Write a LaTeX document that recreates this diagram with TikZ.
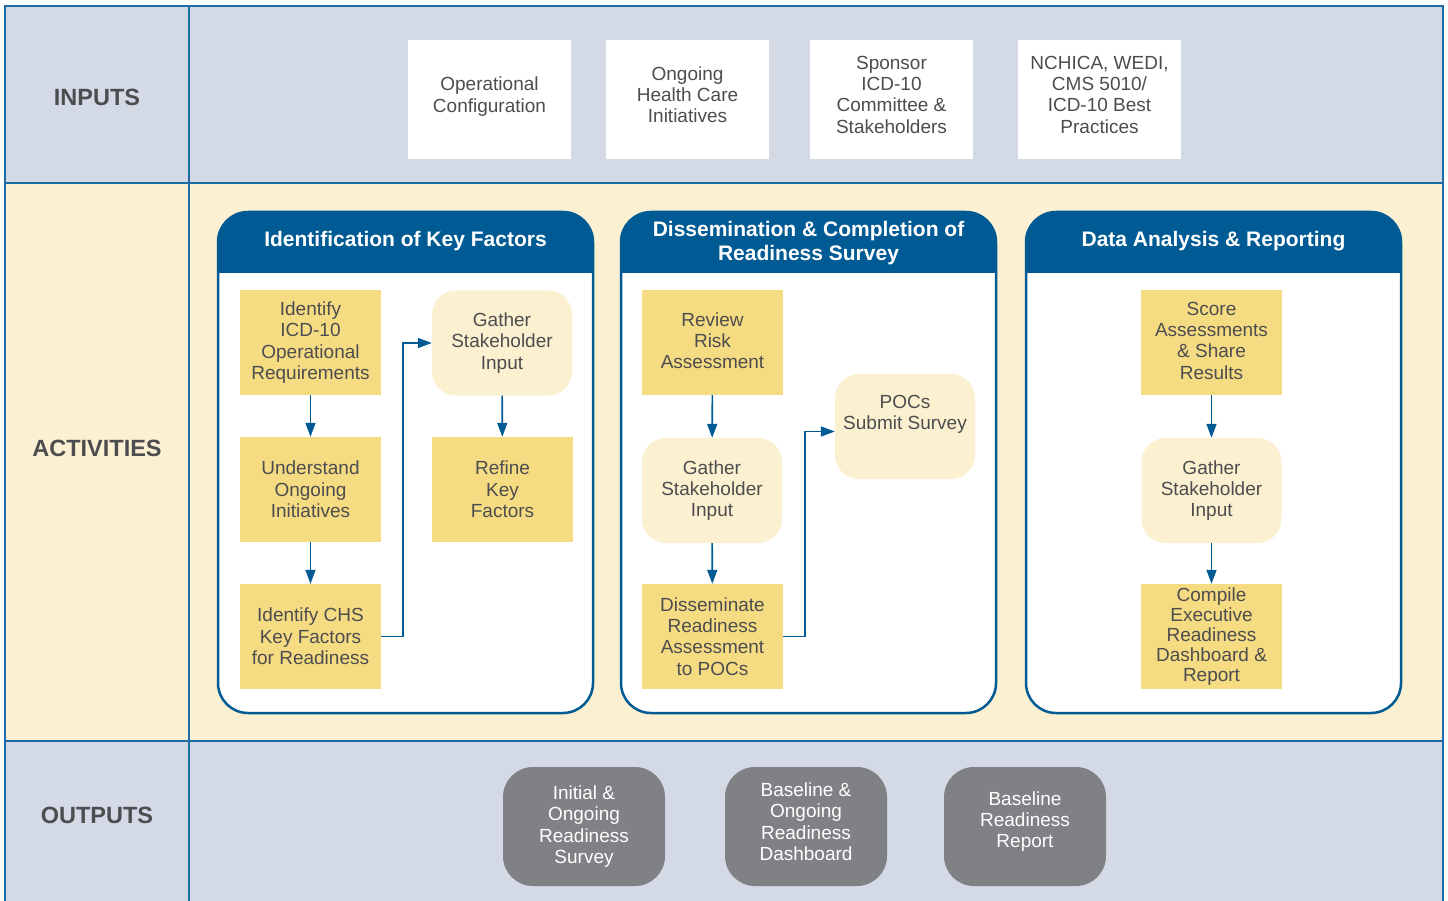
\documentclass[tikz,border=0pt]{standalone}
\usepackage{fontspec}
\setmainfont{Liberation Sans}
\usetikzlibrary{arrows.meta}
\definecolor{rowblue}{HTML}{D3D9E5}
\definecolor{rowcream}{HTML}{FBF0D2}
\definecolor{frame}{HTML}{1F6BA5}
\definecolor{hdr}{HTML}{005B94}
\definecolor{yfill}{HTML}{F5DC82}
\definecolor{cfill}{HTML}{FBF0D0}
\definecolor{gfill}{HTML}{808185}
\definecolor{txt}{HTML}{4D4D4F}
\begin{document}
\begin{tikzpicture}[x=1pt,y=-1pt,
  body/.style={font=\fontsize{19}{21.3}\selectfont, text=txt, align=center},
  ybox/.style={body, fill=yfill, minimum width=141pt, minimum height=105pt, inner sep=0pt},
  cbox/.style={body, fill=cfill, rounded corners=24pt, minimum width=140pt, minimum height=105pt, inner sep=0pt},
  inbox/.style={body, fill=white, minimum width=163pt, minimum height=119pt, inner sep=0pt, text depth=10pt},
  outbox/.style={body, text=white, fill=gfill, rounded corners=30pt, minimum width=162pt, minimum height=119pt, inner sep=0pt},
  rowlabel/.style={font=\fontsize{23.5}{26}\selectfont\bfseries, text=txt},
  ptitle/.style={font=\fontsize{21}{24}\selectfont\bfseries, text=white, align=center},
  pborder/.style={draw=hdr, line width=2.5pt, rounded corners=30pt, minimum width=375pt, minimum height=501pt, inner sep=0pt},
  framel/.style={draw=frame, line width=1.5pt},
  arr/.style={draw=hdr, line width=1.6pt, -{Triangle[length=14pt,width=10pt]}},
]
\useasboundingbox (0,0) rectangle (1448,901);
\fill[white] (0,0) rectangle (1448,901);
% rows
\fill[rowblue] (5,6) rectangle (1443,183);
\fill[rowcream] (5,183) rectangle (1443,741);
\fill[rowblue] (5,741) rectangle (1443,901);
\draw[framel] (5,901) -- (5,6) -- (1443,6) -- (1443,901);
\draw[framel] (5,183) -- (1443,183);
\draw[framel] (5,741) -- (1443,741);
\draw[framel] (189,6) -- (189,901);
% row labels
\node[rowlabel] (lin) at (97,97) {INPUTS};
\node[rowlabel] (lact) at (97,448) {ACTIVITIES};
\node[rowlabel] (lout) at (97,815) {OUTPUTS};
% inputs
\node[inbox] (i1) at (489.5,99.5) {Operational\\Configuration};
\node[inbox] (i2) at (687.5,99.5) {Ongoing\\Health Care\\Initiatives};
\node[inbox] (i3) at (891.5,99.5) {Sponsor\\ICD-10\\Committee \&\\Stakeholders};
\node[inbox] (i4) at (1099.5,99.5) {NCHICA, WEDI,\\CMS 5010/\\ICD-10 Best\\Practices};
% panels
\foreach \xa/\xb in {218/593, 621/996, 1026/1401} {
  \fill[white, rounded corners=30pt] (\xa,212) rectangle (\xb,713);
  \begin{scope}
    \clip[rounded corners=30pt] (\xa,212) rectangle (\xb,713);
    \fill[hdr] (\xa,212) rectangle (\xb,273);
  \end{scope}
}
\node[pborder] (p1) at (405.5,462.5) {};
\node[pborder] (p2) at (808.5,462.5) {};
\node[pborder] (p3) at (1213.5,462.5) {};
\node[ptitle] (t1) at (405.5,241) {Identification of Key Factors};
\node[ptitle] (t2) at (808.5,243) {Dissemination \& Completion of\\Readiness Survey};
\node[ptitle] (t3) at (1213.5,241) {Data Analysis \& Reporting};
% panel 1
\node[ybox] (a1) at (310.5,342.5) {Identify\\ICD-10\\Operational\\Requirements};
\node[ybox] (a2) at (310.5,489.5) {Understand\\Ongoing\\Initiatives};
\node[ybox] (a3) at (310.5,636.5) {Identify CHS\\Key Factors\\for Readiness};
\node[cbox] (a4) at (502,343) {Gather\\Stakeholder\\Input};
\node[ybox] (a5) at (502.5,489.5) {Refine\\Key\\Factors};
\draw[arr] (a1) -- (a2);
\draw[arr] (a2) -- (a3);
\draw[arr] (a4) -- (a5);
\draw[arr] (a3.east) -- ++(22,0) |- (a4.west);
% panel 2
\node[ybox, text depth=4pt] (b1) at (712.5,342.5) {Review\\Risk\\Assessment};
\node[cbox] (b2) at (712,490.5) {Gather\\Stakeholder\\Input};
\node[ybox] (b3) at (712.5,636.5) {Disseminate\\Readiness\\Assessment\\to POCs};
\node[cbox] (b4) at (905,426.5) {POCs\\Submit Survey\\\strut};
\draw[arr] (b1) -- (b2);
\draw[arr] (b2) -- (b3);
\draw[arr] (b3.east) -- ++(22,0) |- ([yshift=-5pt]b4.west);
% panel 3
\node[ybox, text depth=4pt] (c1) at (1211.5,342.5) {Score\\Assessments\\\& Share\\Results};
\node[cbox] (c2) at (1211.5,490.5) {Gather\\Stakeholder\\Input};
\node[ybox, font=\fontsize{19}{20.2}\selectfont] (c3) at (1211.5,636.5) {Compile\\Executive\\Readiness\\Dashboard \&\\Report};
\draw[arr] (c1) -- (c2);
\draw[arr] (c2) -- (c3);
% outputs
\node[outbox] (o1) at (584,826.5) {Initial \&\\Ongoing\\Readiness\\Survey};
\node[outbox, text depth=10pt] (o2) at (806,826.5) {Baseline \&\\Ongoing\\Readiness\\Dashboard};
\node[outbox, text depth=14pt] (o3) at (1025,826.5) {Baseline\\Readiness\\Report};
\end{tikzpicture}
\end{document}
